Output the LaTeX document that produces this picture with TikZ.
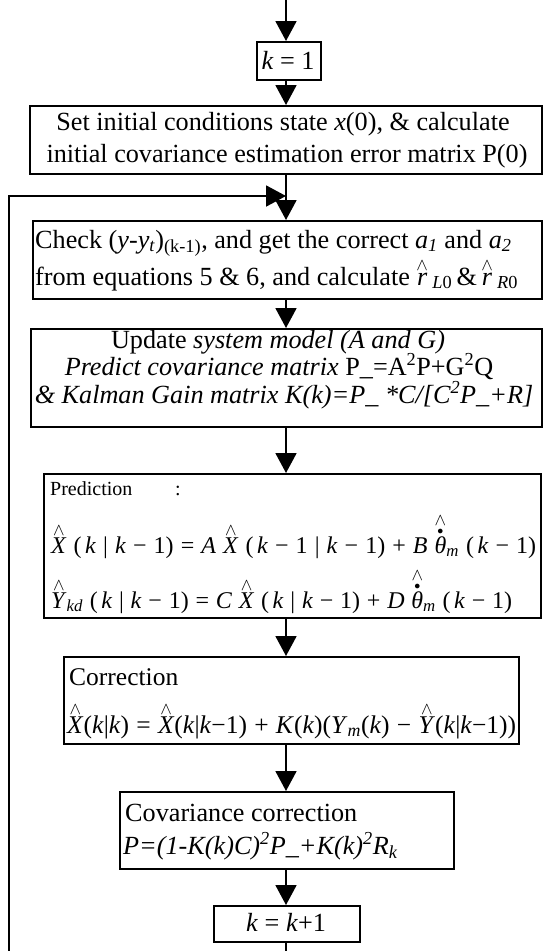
\documentclass[tikz,border=0pt]{standalone}
\usepackage{fontspec}
\setmainfont{Liberation Serif}
\usetikzlibrary{arrows.meta}
\newcommand\hatv[1]{\ensuremath{\stackrel{\wedge}{\mbox{#1}}}}
\newcommand\thetadh{\ensuremath{\stackrel{\wedge}{\stackrel{\scriptscriptstyle\bullet}{\mbox{\textit{θ}}}}}}
\newcommand\eqgap{\hskip 0pt plus 1fil\relax}
\newcommand\eqgapsm{\hskip 0pt plus 0.5fil\relax}
\begin{document}
\begin{tikzpicture}[x=1pt,y=-1pt,
  box/.style={draw, line width=1.9pt, inner sep=0pt, anchor=north west},
  txt/.style={inner sep=0pt, anchor=base west, font=\fontsize{26.2}{32}\selectfont},
  ctxt/.style={txt, anchor=base},
  arr/.style={line width=1.9pt, -{Triangle[length=20pt,width=21pt]}}]
\useasboundingbox (0,0) rectangle (542,951);
\coordinate (col) at (286,0);
% boxes
\node[box, minimum width=64pt,  minimum height=38pt]  (k1)    at (256,41)  {};
\node[box, minimum width=512pt, minimum height=68pt]  (init)  at (29,105)  {};
\node[box, minimum width=509pt, minimum height=78pt]  (check) at (32,220)  {};
\node[box, minimum width=511pt, minimum height=98pt]  (update) at (30,328) {};
\node[box, minimum width=497pt, minimum height=144pt] (pred)  at (43,473)  {};
\node[box, minimum width=455pt, minimum height=87pt]  (corr)  at (63,656)  {};
\node[box, minimum width=334pt, minimum height=77pt]  (cov)   at (119,791) {};
\node[box, minimum width=146pt, minimum height=36pt]  (kk)    at (213,905) {};
% texts
\node[ctxt] (k1t) at (288,69) {\textit{k} = 1};
\node[ctxt] (init1) at (283,130) {Set initial conditions state \textit{x}(0), \& calculate};
\node[ctxt] (init2) at (287,162) {initial covariance estimation error matrix P(0)};
\node[txt] (chk1) at (35,248) {Check (\textit{y}-\textit{y}\textsubscript{\textit{t}})\textsubscript{(k-1)}, and get the correct \textit{a}\textsubscript{\textit{1}} and \textit{a}\textsubscript{\textit{2}}};
\node[txt] (chk2) at (35,285) {from equations 5 \& 6, and calculate \hatv{\textit{r}}\,\textsubscript{\textit{L}0}\,\&\,\hatv{\textit{r}}\,\textsubscript{\textit{R}0}};
\node[ctxt] (up1) at (278,348) {Update \textit{system model (A and G)}};
\node[ctxt] (up2) at (279,375) {\textit{Predict covariance matrix} P\_=A\textsuperscript{2}P+G\textsuperscript{2}Q};
\node[ctxt] (up3) at (284,403) {\textit{\& Kalman Gain matrix K(k)=P\_ *C/[C\textsuperscript{2}P\_+R]}};
\node[txt, font=\fontsize{20}{24}\selectfont] (predl) at (50,495) {\makebox[125pt][l]{Prediction}:};
\node[txt, font=\fontsize{24}{30}\selectfont] (eq1) at (51,553) {\hbox to 485pt{\hatv{\textit{X}}\eqgap(\eqgapsm\textit{k}\eqgap|\eqgap\textit{k}\eqgap−\eqgap1)\eqgap=\eqgap\textit{A}\eqgap\hatv{\textit{X}}\eqgap(\eqgapsm\textit{k}\eqgap−\eqgap1\eqgap|\eqgap\textit{k}\eqgap−\eqgap1)\eqgap+\eqgap\textit{B}\eqgap\thetadh\textsubscript{\textit{m}}\eqgap(\eqgapsm\textit{k}\eqgap−\eqgap1)}};
\node[txt, font=\fontsize{24}{30}\selectfont] (eq2) at (51,608) {\hbox to 461pt{\hatv{\textit{Y}}\textsubscript{\textit{kd}}\eqgap(\eqgapsm\textit{k}\eqgap|\eqgap\textit{k}\eqgap−\eqgap1)\eqgap=\eqgap\textit{C}\eqgap\hatv{\textit{X}}\eqgap(\eqgapsm\textit{k}\eqgap|\eqgap\textit{k}\eqgap−\eqgap1)\eqgap+\eqgap\textit{D}\eqgap\thetadh\textsubscript{\textit{m}}\eqgap(\eqgapsm\textit{k}\eqgap−\eqgap1)}};
\node[txt, font=\fontsize{25.5}{30}\selectfont] (corrl) at (69,685) {Correction};
\node[txt, font=\fontsize{25.5}{30}\selectfont] (eq3) at (67,733) {\hbox to 449pt{\hatv{\textit{X}}(\textit{k}|\textit{k})\eqgap=\eqgap\hatv{\textit{X}}(\textit{k}|\textit{k}−1)\eqgap+\eqgap\textit{K}(\textit{k})(\textit{Y}\textsubscript{\textit{m}}(\textit{k})\eqgap−\eqgap\hatv{\textit{Y}}(\textit{k}|\textit{k}−1))}};
\node[txt] (covl) at (125,821) {Covariance correction};
\node[txt] (eq4) at (123,854) {\textit{P=(1-K(k)C)\textsuperscript{2}P\_+K(k)\textsuperscript{2}R\textsubscript{k}}};
\node[ctxt] (kkt) at (286,931) {\textit{k} = \textit{k}+1};
% connectors
\coordinate (top) at (286,-5);
\coordinate (tl) at (9,196);
\coordinate (bl) at (9,975);
\coordinate (join) at (col |- tl);
\draw[arr] (top) -- (k1.north -| col);
\draw[arr] (k1.south -| col) -- (init.north -| col);
\draw[arr] (init.south -| col) -- (check.north -| col);
\draw[arr] (check.south -| col) -- (update.north -| col);
\draw[arr] (update.south -| col) -- (pred.north -| col);
\draw[arr] (pred.south -| col) -- (corr.north -| col);
\draw[arr] (corr.south -| col) -- (cov.north -| col);
\draw[arr] (cov.south -| col) -- (kk.north -| col);
\draw[arr] (kk.south -| col) |- (bl) -- (tl) -- (join);
\end{tikzpicture}
\end{document}
